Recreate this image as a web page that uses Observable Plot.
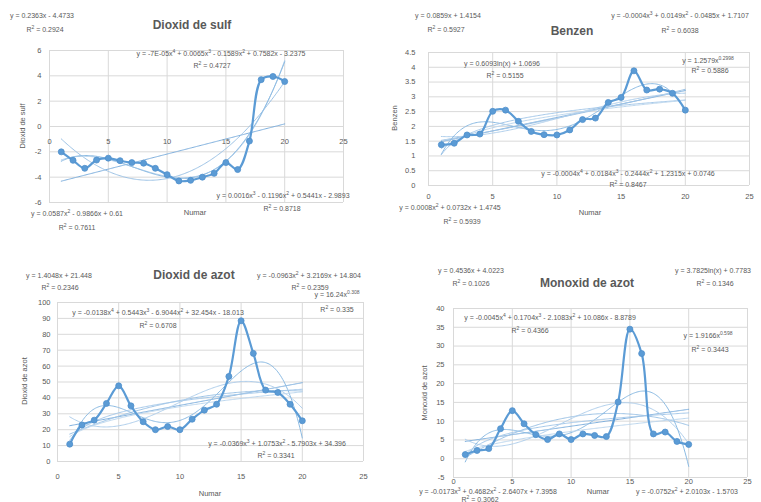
<!DOCTYPE html>
<html><head><meta charset="utf-8">
<script src="https://cdn.jsdelivr.net/npm/d3@7"></script>
<script src="https://cdn.jsdelivr.net/npm/@observablehq/plot@0.6"></script>
<style>
body{margin:0;background:#fff;font-family:"Liberation Sans",Arial,sans-serif;}
#wrap{position:relative;width:761px;height:502px;overflow:hidden;background:#fff;}
.panel{position:absolute;}
.t{position:absolute;white-space:nowrap;transform:translate(-50%,-50%);color:#595959;line-height:1;}
.eq{font-size:7px;}
.eq sup{font-size:5px;vertical-align:2.5px;line-height:0;}
.title{font-size:12px;font-weight:bold;}
.axt{font-size:7.5px;}
.rot{transform:translate(-50%,-50%) rotate(-90deg);}
</style></head><body><div id="wrap"></div>
<script>
// ---- data ----
const numar = [1,2,3,4,5,6,7,8,9,10,11,12,13,14,15,16,17,18,19,20];
const dioxidSulf = [-2.0,-2.67,-3.3,-2.65,-2.5,-2.7,-2.85,-2.9,-3.3,-3.8,-4.3,-4.25,-4.0,-3.7,-2.85,-3.4,-1.15,3.7,3.95,3.55];
const benzen = [1.38,1.43,1.71,1.74,2.51,2.55,2.17,1.83,1.72,1.71,1.88,2.23,2.28,2.81,2.98,3.88,3.23,3.26,3.12,2.55];
const dioxidAzot = [10.9,23,26,36.5,47.6,35,25,20,22,20,26.6,32.3,36,53.5,88.5,68,44.9,43.4,36,25.6];
const monoxidAzot = [1.1,2.2,2.7,8,12.8,9.3,6.4,5.1,6.6,5.1,6.6,6.2,5.9,15.1,34.5,28,6.6,7.1,4.6,3.8];

const xTicks = [0,5,10,15,20,25];
const yTicksSulf = [-6,-4,-2,0,2,4,6];
const yTicksBenzen = [0,0.5,1,1.5,2,2.5,3,3.5,4,4.5];
const yTicksNO2 = [0,10,20,30,40,50,60,70,80,90,100];
const yTicksNO = [-5,0,5,10,15,20,25,30,35,40];

const titles = ["Dioxid de sulf","Benzen","Dioxid de azot","Monoxid de azot"];
const xTitle = "Numar";

const trendsSulf = ["lin","poly2","poly3","poly4"];
const trendsBenzen = ["lin","poly2","poly3","poly4","log","pow"];
const trendsNO2 = ["lin","poly2","poly3","poly4","log","pow"];
const trendsNO = ["lin","poly2","poly3","poly4","log","pow"];

const eqSulf = [
  ["y = 0.2363x - 4.4733","R^2 = 0.2924"],
  ["y = -7E-05x^4 + 0.0065x^3 - 0.1589x^2 + 0.7582x - 3.2375","R^2 = 0.4727"],
  ["y = 0.0016x^3 - 0.1196x^2 + 0.5441x - 2.9893","R^2 = 0.8718"],
  ["y = 0.0587x^2 - 0.9866x + 0.61","R^2 = 0.7611"]
];
const eqBenzen = [
  ["y = 0.0859x + 1.4154","R^2 = 0.5927"],
  ["y = -0.0004x^3 + 0.0149x^2 - 0.0485x + 1.7107","R^2 = 0.6038"],
  ["y = 0.6093ln(x) + 1.0696","R^2 = 0.5155"],
  ["y = 1.2579x^0.2998","R^2 = 0.5886"],
  ["y = -0.0004x^4 + 0.0184x^3 - 0.2444x^2 + 1.2315x + 0.0746","R^2 = 0.8467"],
  ["y = 0.0008x^2 + 0.0732x + 1.4745","R^2 = 0.5939"]
];
const eqNO2 = [
  ["y = 1.4048x + 21.448","R^2 = 0.2346"],
  ["y = -0.0963x^2 + 3.2169x + 14.804","R^2 = 0.2359"],
  ["y = 16.24x^0.308","R^2 = 0.335"],
  ["y = -0.0138x^4 + 0.5443x^3 - 6.9044x^2 + 32.454x - 18.013","R^2 = 0.6708"],
  ["y = -0.0369x^3 + 1.0753x^2 - 5.7903x + 34.396","R^2 = 0.3341"]
];
const eqNO = [
  ["y = 0.4536x + 4.0223","R^2 = 0.1026"],
  ["y = 3.7825ln(x) + 0.7783","R^2 = 0.1346"],
  ["y = -0.0045x^4 + 0.1704x^3 - 2.1083x^2 + 10.086x - 8.8789","R^2 = 0.4366"],
  ["y = 1.9166x^0.598","R^2 = 0.3443"],
  ["y = -0.0173x^3 + 0.4682x^2 - 2.6407x + 7.3958","R^2 = 0.3062"],
  ["y = -0.0752x^2 + 2.0103x - 1.5703",""]
];

// ---- least-squares trendlines ----
function polyfit(xs, ys, deg){
  const n = deg+1;
  const M = Array.from({length:n},()=>new Array(n+1).fill(0));
  for (let k=0;k<xs.length;k++){
    const p = []; for(let i=0;i<n;i++) p.push(Math.pow(xs[k],i));
    for(let i=0;i<n;i++){ for(let j=0;j<n;j++) M[i][j]+=p[i]*p[j]; M[i][n]+=p[i]*ys[k]; }
  }
  for(let c=0;c<n;c++){
    let piv=c; for(let r=c+1;r<n;r++) if(Math.abs(M[r][c])>Math.abs(M[piv][c])) piv=r;
    [M[c],M[piv]]=[M[piv],M[c]];
    for(let r=0;r<n;r++){ if(r===c) continue; const f=M[r][c]/M[c][c]; for(let j=c;j<=n;j++) M[r][j]-=f*M[c][j]; }
  }
  return M.map((row,i)=>row[n]/row[i]);
}
function fitFn(xs, ys, type){
  if (type==="log"){ const c=polyfit(xs.map(Math.log),ys,1); return x=>c[0]+c[1]*Math.log(x); }
  if (type==="pow"){ const c=polyfit(xs.map(Math.log),ys.map(Math.log),1); return x=>Math.exp(c[0])*Math.pow(x,c[1]); }
  const deg = type==="lin"?1:+type.slice(4);
  const c = polyfit(xs,ys,deg);
  return x=>c.reduce((s,ci,i)=>s+ci*Math.pow(x,i),0);
}
const trendColors = ["#7fb0de","#9dc3e6","#b0cfec","#8cbbe3","#a6c9ea","#bdd7ee"];

const wrap = document.getElementById("wrap");
function addText(cls, x, y, html){
  const d = document.createElement("div");
  d.className = "t "+cls; d.style.left = x+"px"; d.style.top = y+"px"; d.innerHTML = html;
  wrap.appendChild(d);
}
const sup = s => s.replace(/\^([0-9.]+)/g, "<sup>$1</sup>");

function panel(cfg){
  const data = numar.map((x,i)=>({x, y: cfg.values[i]}));
  const grid = d3.range(d3.min(numar), d3.max(numar)+1e-9, 0.1);
  const trendMarks = cfg.trends.map((t,i)=>{
    const f = fitFn(numar, cfg.values, t);
    return Plot.line(grid.map(x=>({x, y:f(x)})), {x:"x", y:"y", stroke: trendColors[i%trendColors.length], strokeWidth:1, clip:true});
  });
  const fmt = d=>String(d);
  const xAxisMarks = cfg.xAtZero
    ? [Plot.text(xTicks, {x:d=>d, y:()=>0, dy:cfg.xPad, text:fmt, fill:"#595959", fontSize:7.5})]
    : [Plot.axisX({ticks:xTicks, tickSize:0, tickPadding:cfg.xPad, label:null, tickFormat:fmt, fill:"#595959"})];
  const chart = Plot.plot({
    width: cfg.w, height: cfg.h,
    marginLeft: cfg.ml, marginRight: cfg.mr, marginTop: cfg.mt, marginBottom: cfg.mb,
    x: {domain:[0,25], axis:null}, y: {domain: cfg.yDomain, axis:null},
    style: {fontFamily:'"Liberation Sans",Arial,sans-serif', fontSize:"7.5px", color:"#595959", background:"transparent", overflow:"visible"},
    marks: [
      Plot.gridX(xTicks, {stroke:"#d9d9d9", strokeOpacity:1}),
      Plot.gridY(cfg.yTicks, {stroke:"#d9d9d9", strokeOpacity:1}),
      Plot.axisY({ticks:cfg.yTicks, tickSize:0, tickPadding:cfg.yPad, label:null, tickFormat:fmt, fill:"#595959"}),
      ...xAxisMarks,
      ...trendMarks,
      Plot.line(data, {x:"x", y:"y", stroke:"#5b9bd5", strokeWidth:2.2, curve:"catmull-rom"}),
      Plot.dot(data, {x:"x", y:"y", r:3, fill:"#5b9bd5", stroke:"#4f8fcc", strokeWidth:0.8})
    ]
  });
  chart.classList.add("panel");
  chart.style.left = cfg.left+"px"; chart.style.top = cfg.top+"px";
  wrap.appendChild(chart);
}

panel({values:dioxidSulf, yDomain:[-6,6], yTicks:yTicksSulf, trends:trendsSulf, xAtZero:true, xPad:15, yPad:8,
  left:0, top:0, w:380, h:250, ml:49, mr:37, mt:50, mb:48});
panel({values:benzen, yDomain:[0,4.5], yTicks:yTicksBenzen, trends:trendsBenzen, xAtZero:false, xPad:8, yPad:13,
  left:380, top:0, w:381, h:250, ml:48, mr:12, mt:52, mb:65});
panel({values:dioxidAzot, yDomain:[0,100], yTicks:yTicksNO2, trends:trendsNO2, xAtZero:false, xPad:12, yPad:7,
  left:0, top:250, w:380, h:252, ml:57, mr:17, mt:52, mb:41});
panel({values:monoxidAzot, yDomain:[-5,40], yTicks:yTicksNO, trends:trendsNO, xAtZero:false, xPad:1, yPad:9,
  left:380, top:250, w:381, h:252, ml:73, mr:14, mt:58, mb:25});

// titles and axis titles
addText("title",192,25,titles[0]);
addText("title",572,31,titles[1]);
addText("title",194,275,titles[2]);
addText("title",587,283,titles[3]);
addText("axt",195,213,xTitle);
addText("axt",590,213,xTitle);
addText("axt",210,494,xTitle);
addText("axt",598,492,xTitle);
addText("axt rot",23,126,titles[0]);
addText("axt rot",395,118,titles[1]);
addText("axt rot",25,381,titles[2]);
addText("axt rot",425,393,titles[3]);

// trendline equation labels
function eqPair(eq, x1,y1,x2,y2){ addText("eq",x1,y1,sup(eq[0])); if(eq[1]) addText("eq",x2,y2,sup(eq[1])); }
eqPair(eqSulf[0],42,15,45,29);
eqPair(eqSulf[1],221,53,212,65);
eqPair(eqSulf[2],283,195,282,208);
eqPair(eqSulf[3],77,213,77,227);
eqPair(eqBenzen[0],448,15,446,29);
eqPair(eqBenzen[1],680,15,680,30);
eqPair(eqBenzen[2],502,63,505,75);
eqPair(eqBenzen[3],708,60,710,70);
eqPair(eqBenzen[4],628,173,628,184);
eqPair(eqBenzen[5],450,207,462,221);
eqPair(eqNO2[0],59,275,60,287);
eqPair(eqNO2[1],309,275,310,287);
eqPair(eqNO2[2],337,294,337,309);
eqPair(eqNO2[3],158,312,158,325);
eqPair(eqNO2[4],277,443,276,455);
eqPair(eqNO[0],471,270,471,283);
eqPair(eqNO[1],713,270,715,283);
eqPair(eqNO[2],550,317,530,330);
eqPair(eqNO[3],708,335,710,349);
eqPair(eqNO[4],488,491,480,498.5);
eqPair(eqNO[5],687,491,0,0);
</script></body></html>
